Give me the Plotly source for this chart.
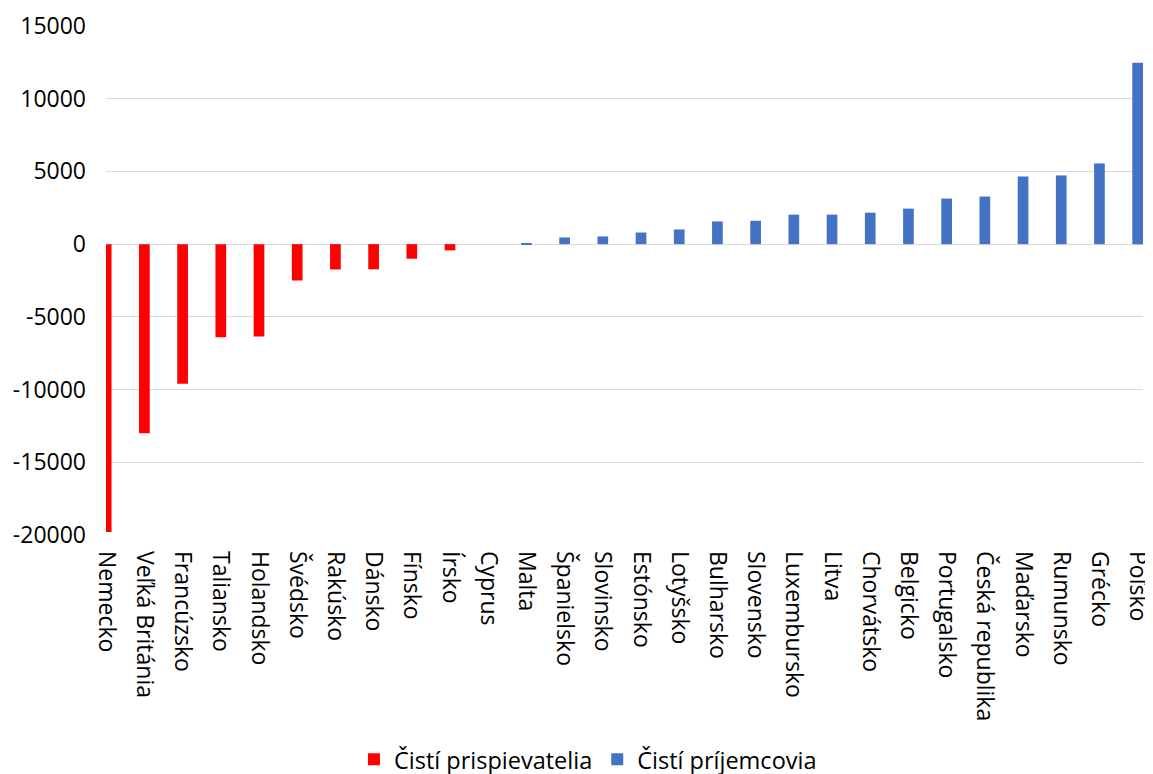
import plotly.graph_objects as go

categories = ["Nemecko", "Veľká Británia", "Francúzsko", "Taliansko", "Holandsko",
              "Švédsko", "Rakúsko", "Dánsko", "Fínsko", "Írsko", "Cyprus", "Malta",
              "Španielsko", "Slovinsko", "Estónsko", "Lotyšsko", "Bulharsko",
              "Slovensko", "Luxembursko", "Litva", "Chorvátsko", "Belgicko",
              "Portugalsko", "Česká republika", "Maďarsko", "Rumunsko", "Grécko", "Poľsko"]

contributors = [-19800, -13000, -9600, -6400, -6350, -2500, -1740, -1730, -1000, -430,
                None, None, None, None, None, None, None, None, None, None,
                None, None, None, None, None, None, None, None]

recipients = [None, None, None, None, None, None, None, None, None, None,
              0, 40, 460, 530, 800, 1010, 1560, 1610, 2030, 2030,
              2166, 2442, 3134, 3272, 4654, 4724, 5553, 12465]

tick_vals = [-20000, -15000, -10000, -5000, 0, 5000, 10000, 15000]
tick_text = ["-20000", "-15000", "-10000", "-5000", "0", "5000", "10000", "15000"]

FONT = "Open Sans"

fig = go.Figure()
fig.add_trace(go.Bar(x=categories, y=contributors, name="Čistí prispievatelia",
                     marker=dict(color="#FF0000", line=dict(width=0)), width=0.28))
fig.add_trace(go.Bar(x=categories, y=recipients, name="Čistí príjemcovia",
                     marker=dict(color="#4472C4", line=dict(width=0)), width=0.28))

fig.update_layout(
    width=1153, height=774,
    margin=dict(l=98, r=18, t=18, b=247, autoexpand=False),
    barmode="overlay",
    plot_bgcolor="white", paper_bgcolor="white",
    font=dict(family=FONT, size=23, color="#000000"),
    showlegend=True,
    legend=dict(orientation="h", xref="container", yref="container",
                x=0.503, xanchor="center", y=0.029, yanchor="middle",
                font=dict(family=FONT, size=23.5, color="#000000"),
                itemwidth=30, traceorder="normal"),
    xaxis=dict(type="category", range=[-0.005, 27.14], tickangle=90,
               showgrid=False, showline=False, zeroline=False, ticks="",
               automargin=False,
               tickfont=dict(family=FONT, size=23, color="#000000"),
               ticklabelstandoff=15),
    yaxis=dict(range=[-20000, 15000], tickvals=tick_vals, ticktext=tick_text,
               showgrid=True, gridcolor="#D9D9D9", gridwidth=1,
               zeroline=True, zerolinecolor="#D9D9D9", zerolinewidth=1,
               showline=False, ticks="", automargin=False,
               tickfont=dict(family=FONT, size=23, color="#000000"),
               ticklabelstandoff=19),
)

fig.write_html("out.html")
